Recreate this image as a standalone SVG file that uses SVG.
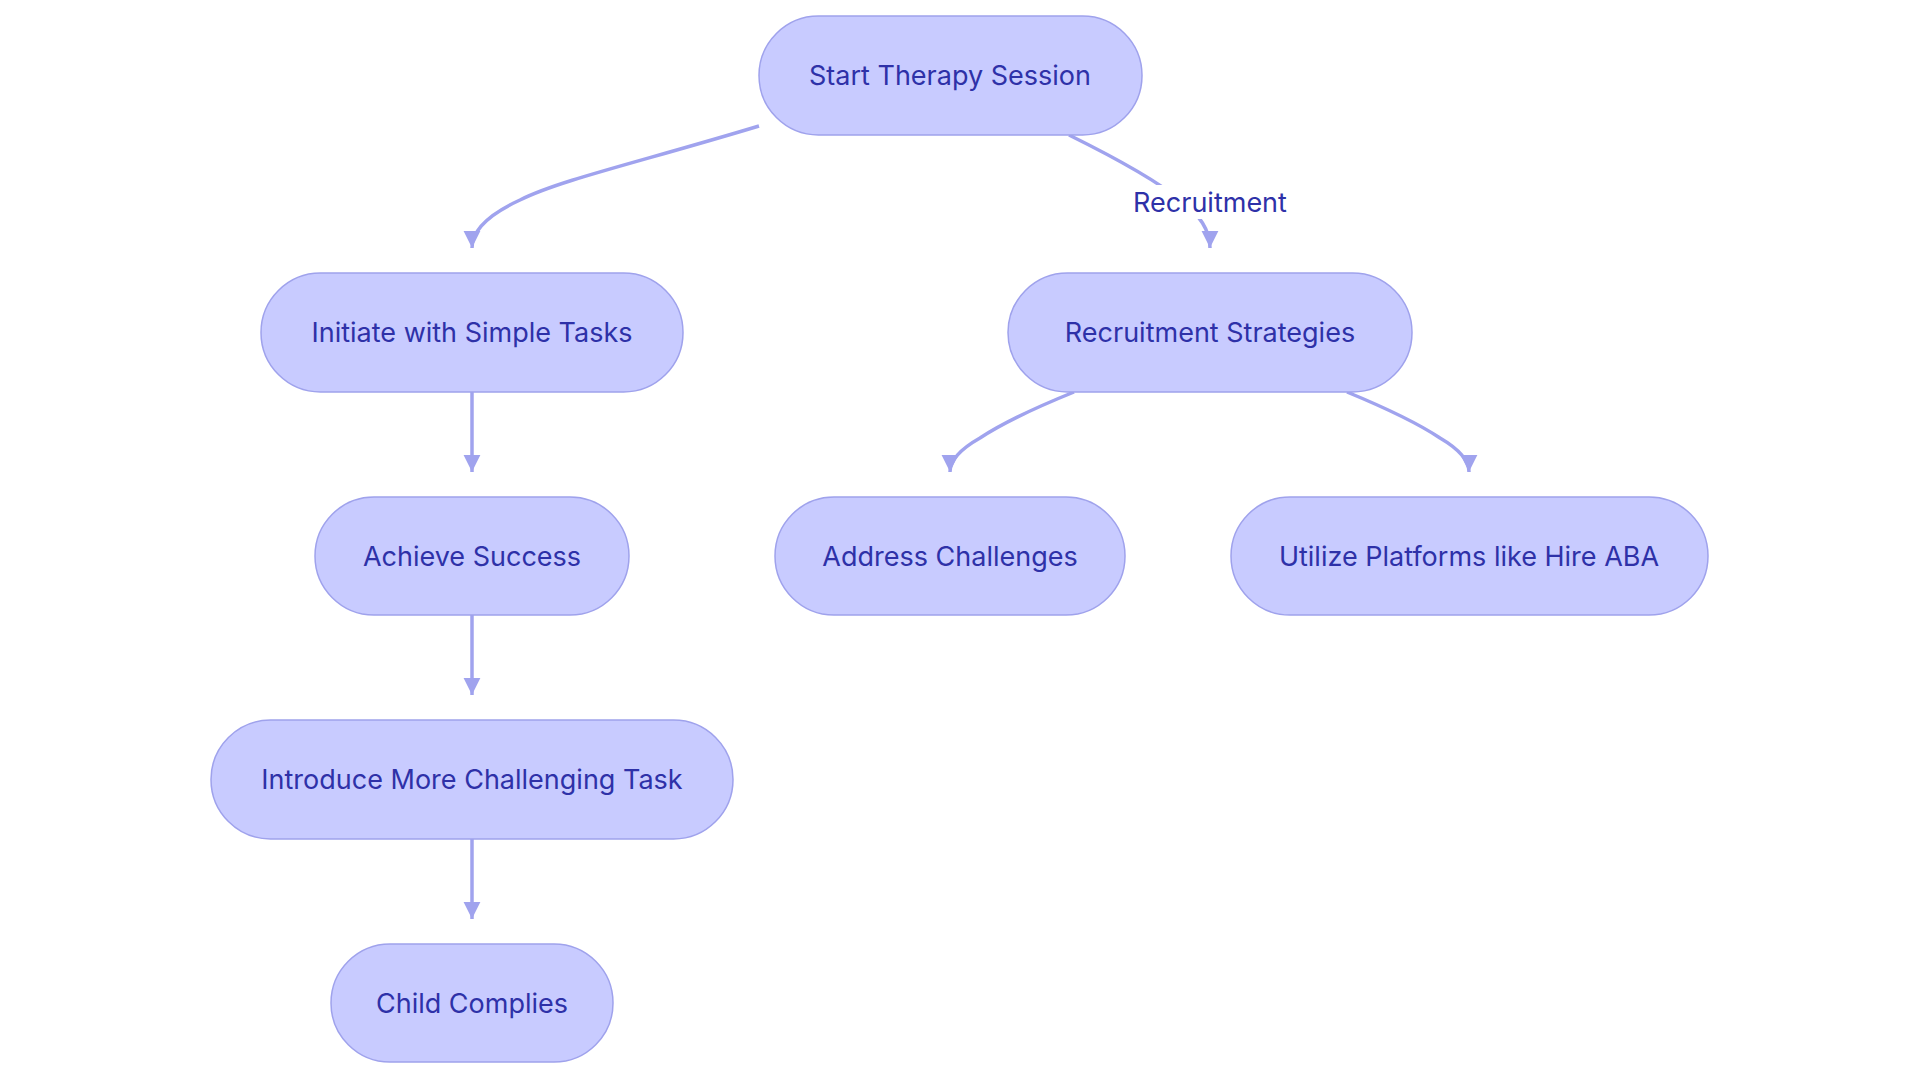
<svg xmlns="http://www.w3.org/2000/svg" width="1920" height="1083" viewBox="0 0 1920 1083">
<style>
.n rect{fill:#C8CBFF;stroke:#9FA2EC;stroke-width:1.5}
.n text,.lbl{font-family:Inter,"Noto Sans",sans-serif;font-size:27px;fill:#2E31A8;text-anchor:middle;dominant-baseline:central}
.e path{fill:none;stroke:#A0A3EE;stroke-width:3.5}
</style>
<defs><marker id="a" viewBox="0 0 10 10" refX="10" refY="5" markerWidth="7" markerHeight="7" markerUnits="userSpaceOnUse" orient="auto" style="overflow:visible"><path d="M0,0L10,5L0,10z" fill="#A0A3EE" transform="scale(2.4) translate(-6,-2.9)"/></marker></defs>
<rect width="1920" height="1083" fill="#fff"/>
<g class="e">
<path d="M759,126 C640,162 560,180 520,200 Q472,222 472,248" marker-end="url(#a)"/>
<path d="M1069,135 Q1150,175 1180,200 Q1210,222 1210,248" marker-end="url(#a)"/>
<path d="M472,392 L472,472" marker-end="url(#a)"/>
<path d="M1074,392 Q1010,418 980,438 Q950,455 950,472" marker-end="url(#a)"/>
<path d="M1347,392 Q1410,418 1440,438 Q1469,455 1469,472" marker-end="url(#a)"/>
<path d="M472,615 L472,695" marker-end="url(#a)"/>
<path d="M472,839 L472,919" marker-end="url(#a)"/>
</g>
<rect x="1120" y="185" width="180" height="34" fill="#fff"/>
<text class="lbl" x="1210" y="202">Recruitment</text>
<g class="n" id="start"><rect x="759" y="16" width="383" height="119" rx="59.5"/><text x="950" y="75">Start Therapy Session</text></g>
<g class="n" id="initiate"><rect x="261" y="273" width="422" height="119" rx="59.5"/><text x="472" y="332">Initiate with Simple Tasks</text></g>
<g class="n" id="recruit"><rect x="1008" y="273" width="404" height="119" rx="59.5"/><text x="1210" y="332">Recruitment Strategies</text></g>
<g class="n" id="achieve"><rect x="315" y="497" width="314" height="118" rx="59"/><text x="472" y="556">Achieve Success</text></g>
<g class="n" id="address"><rect x="775" y="497" width="350" height="118" rx="59"/><text x="950" y="556">Address Challenges</text></g>
<g class="n" id="utilize"><rect x="1231" y="497" width="477" height="118" rx="59"/><text x="1469" y="556">Utilize Platforms like Hire ABA</text></g>
<g class="n" id="introduce"><rect x="211" y="720" width="522" height="119" rx="59.5"/><text x="472" y="779">Introduce More Challenging Task</text></g>
<g class="n" id="child"><rect x="331" y="944" width="282" height="118" rx="59"/><text x="472" y="1003">Child Complies</text></g>
</svg>
